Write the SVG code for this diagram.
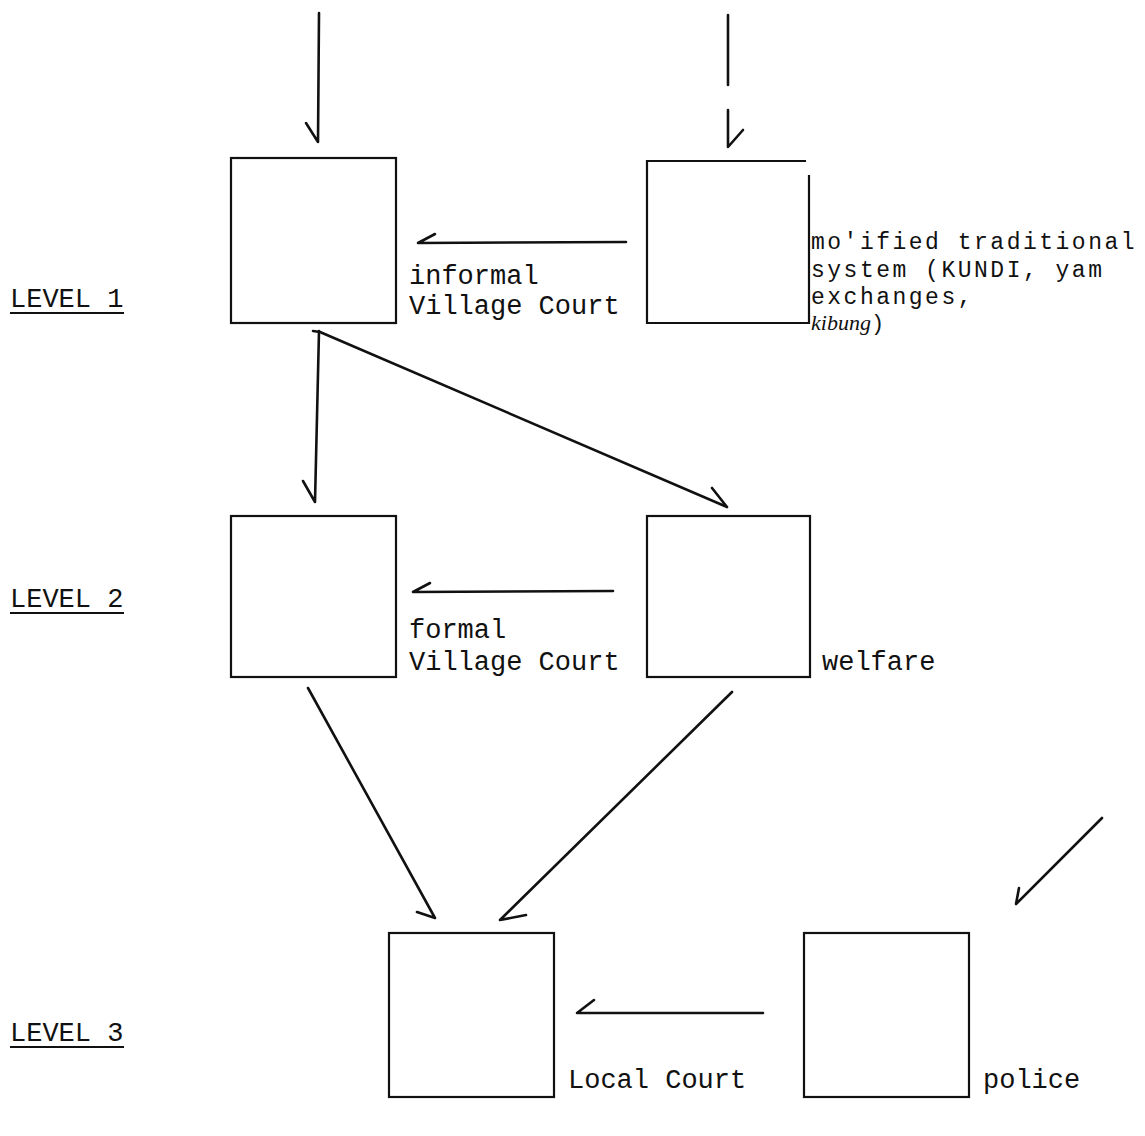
<svg xmlns="http://www.w3.org/2000/svg" width="1145" height="1136" viewBox="0 0 1145 1136">
<style>
.box{fill:none;stroke:#111;stroke-width:2.2}
.arr{fill:none;stroke:#111;stroke-width:2.6;stroke-linecap:round;stroke-linejoin:round}
.t{font-family:"Liberation Mono","Courier New",monospace;font-size:27px;fill:#111}
.s{font-size:23px;letter-spacing:2.5px}
.it{font-family:"Liberation Serif","Times New Roman",serif;font-style:italic;font-size:22px;fill:#111}
.ul{stroke:#111;stroke-width:2}
</style>
<rect width="1145" height="1136" fill="#fff"/>
<g id="levels">
<text class="t" x="10" y="307">LEVEL 1</text>
<line class="ul" x1="10" y1="313" x2="124" y2="313"/>
<text class="t" x="10" y="607">LEVEL 2</text>
<line class="ul" x1="10" y1="613" x2="124" y2="613"/>
<text class="t" x="10" y="1041">LEVEL 3</text>
<line class="ul" x1="10" y1="1047" x2="124" y2="1047"/>
</g>
<g id="informal-village-court">
<rect class="box" x="231" y="158" width="165" height="165"/>
<text class="t" x="409" y="284">informal</text>
<text class="t" x="409" y="314">Village Court</text>
</g>
<g id="modified-traditional">
<path class="box" d="M806,161 H647 V323 H809 V175"/>
<text class="t s" x="811" y="249">mo'ified traditional</text>
<text class="t s" x="811" y="277">system (KUNDI, yam</text>
<text class="t s" x="811" y="304">exchanges,</text>
<text class="it" x="811" y="330">kibung<tspan font-family="Liberation Mono, monospace" font-style="normal">)</tspan></text>
</g>
<g id="formal-village-court">
<rect class="box" x="231" y="516" width="165" height="161"/>
<text class="t" x="409" y="638">formal</text>
<text class="t" x="409" y="670">Village Court</text>
</g>
<g id="welfare">
<rect class="box" x="647" y="516" width="163" height="161"/>
<text class="t" x="822" y="670">welfare</text>
</g>
<g id="local-court">
<rect class="box" x="389" y="933" width="165" height="164"/>
<text class="t" x="568" y="1088">Local Court</text>
</g>
<g id="police">
<rect class="box" x="804" y="933" width="165" height="164"/>
<text class="t" x="983" y="1088">police</text>
</g>
<g id="connectors">
<path class="arr" d="M319,13 L318,142 M306,123 L318,142"/>
<path class="arr" d="M728,15 L728,85 M728,110 L728,147 L743,130"/>
<path class="arr" d="M626,242 L418,243 L435,234"/>
<path class="arr" d="M319,331 L315,502 M303,481 L315,502"/>
<path class="arr" d="M313,331 L320,332 L727,507 M712,488 L727,507"/>
<path class="arr" d="M613,591 L413,592 L430,583"/>
<path class="arr" d="M308,688 L435,918 M417,912 L435,918"/>
<path class="arr" d="M732,692 L500,920 L526,915"/>
<path class="arr" d="M763,1013 L577,1013 L594,1000"/>
<path class="arr" d="M1102,818 L1016,904 L1019,888"/>
</g>
</svg>
